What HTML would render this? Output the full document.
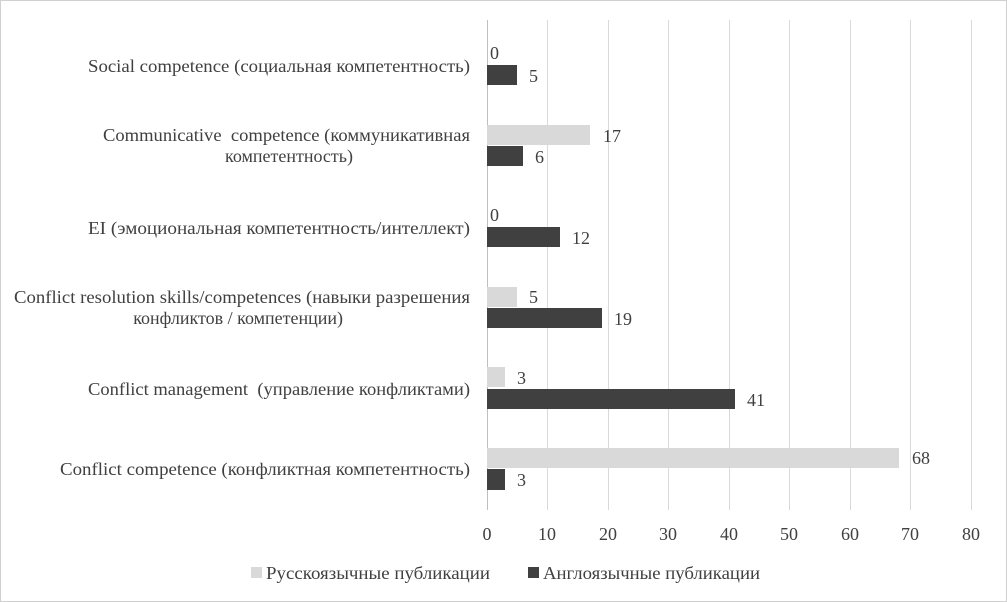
<!DOCTYPE html>
<html><head><meta charset="utf-8"><style>
html,body{margin:0;padding:0;background:#fff}
svg{display:block}
text{font-family:"Liberation Serif",serif;font-size:18px;fill:#404040}
</style></head><body>
<svg width="1007" height="602" xmlns="http://www.w3.org/2000/svg">
<rect x="0.5" y="0.5" width="1006" height="601" fill="#fff" stroke="#d0d0d0"/>
<g stroke="#d9d9d9" stroke-width="1">
<line x1="547.5" y1="20" x2="547.5" y2="510"/>
<line x1="608.5" y1="20" x2="608.5" y2="510"/>
<line x1="668.5" y1="20" x2="668.5" y2="510"/>
<line x1="729.5" y1="20" x2="729.5" y2="510"/>
<line x1="789.5" y1="20" x2="789.5" y2="510"/>
<line x1="850.5" y1="20" x2="850.5" y2="510"/>
<line x1="910.5" y1="20" x2="910.5" y2="510"/>
<line x1="971.5" y1="20" x2="971.5" y2="510"/>
</g>
<line x1="487.5" y1="20" x2="487.5" y2="510" stroke="#bfbfbf"/>
<g fill="#d9d9d9">
<rect x="487" y="125" width="103" height="20"/>
<rect x="487" y="287" width="30" height="20"/>
<rect x="487" y="367" width="18" height="20"/>
<rect x="487" y="448" width="412" height="20"/>
</g>
<g fill="#404040">
<rect x="487" y="65" width="30" height="20"/>
<rect x="487" y="146" width="36" height="20"/>
<rect x="487" y="227" width="73" height="20"/>
<rect x="487" y="308" width="115" height="20"/>
<rect x="487" y="389" width="248" height="20"/>
<rect x="487" y="469" width="18" height="21"/>
</g>
<g>
<text x="499" y="59" text-anchor="end">0</text>
<text x="529" y="82">5</text>
<text x="603" y="142">17</text>
<text x="535" y="163">6</text>
<text x="499" y="221" text-anchor="end">0</text>
<text x="572" y="244">12</text>
<text x="529" y="303">5</text>
<text x="614" y="325">19</text>
<text x="517" y="384">3</text>
<text x="747" y="406">41</text>
<text x="912" y="464">68</text>
<text x="517" y="486">3</text>
</g>
<g>
<text x="88" y="72" textLength="382" lengthAdjust="spacingAndGlyphs">Social competence (социальная компетентность)</text>
<text x="103" y="141" textLength="367" lengthAdjust="spacingAndGlyphs">Communicative&#160; competence (коммуникативная</text>
<text x="353" y="162" text-anchor="end">компетентность)</text>
<text x="88" y="234" textLength="382" lengthAdjust="spacingAndGlyphs">EI (эмоциональная компетентность/интеллект)</text>
<text x="14" y="303" textLength="456" lengthAdjust="spacingAndGlyphs">Conflict resolution skills/competences (навыки разрешения</text>
<text x="343" y="324" text-anchor="end">конфликтов / компетенции)</text>
<text x="88" y="395" textLength="382" lengthAdjust="spacingAndGlyphs">Conflict management&#160; (управление конфликтами)</text>
<text x="60" y="475" textLength="410" lengthAdjust="spacingAndGlyphs">Conflict competence (конфликтная компетентность)</text>
</g>
<g text-anchor="middle">
<text x="487" y="540">0</text><text x="547" y="540">10</text><text x="608" y="540">20</text>
<text x="668" y="540">30</text><text x="729" y="540">40</text><text x="789" y="540">50</text>
<text x="850" y="540">60</text><text x="910" y="540">70</text><text x="971" y="540">80</text>
</g>
<rect x="251" y="567" width="11" height="11" fill="#d9d9d9"/>
<text x="266" y="579" textLength="224" lengthAdjust="spacingAndGlyphs">Русскоязычные публикации</text>
<rect x="528" y="567" width="11" height="11" fill="#404040"/>
<text x="543" y="579" textLength="217" lengthAdjust="spacingAndGlyphs">Англоязычные публикации</text>
</svg>
</body></html>
